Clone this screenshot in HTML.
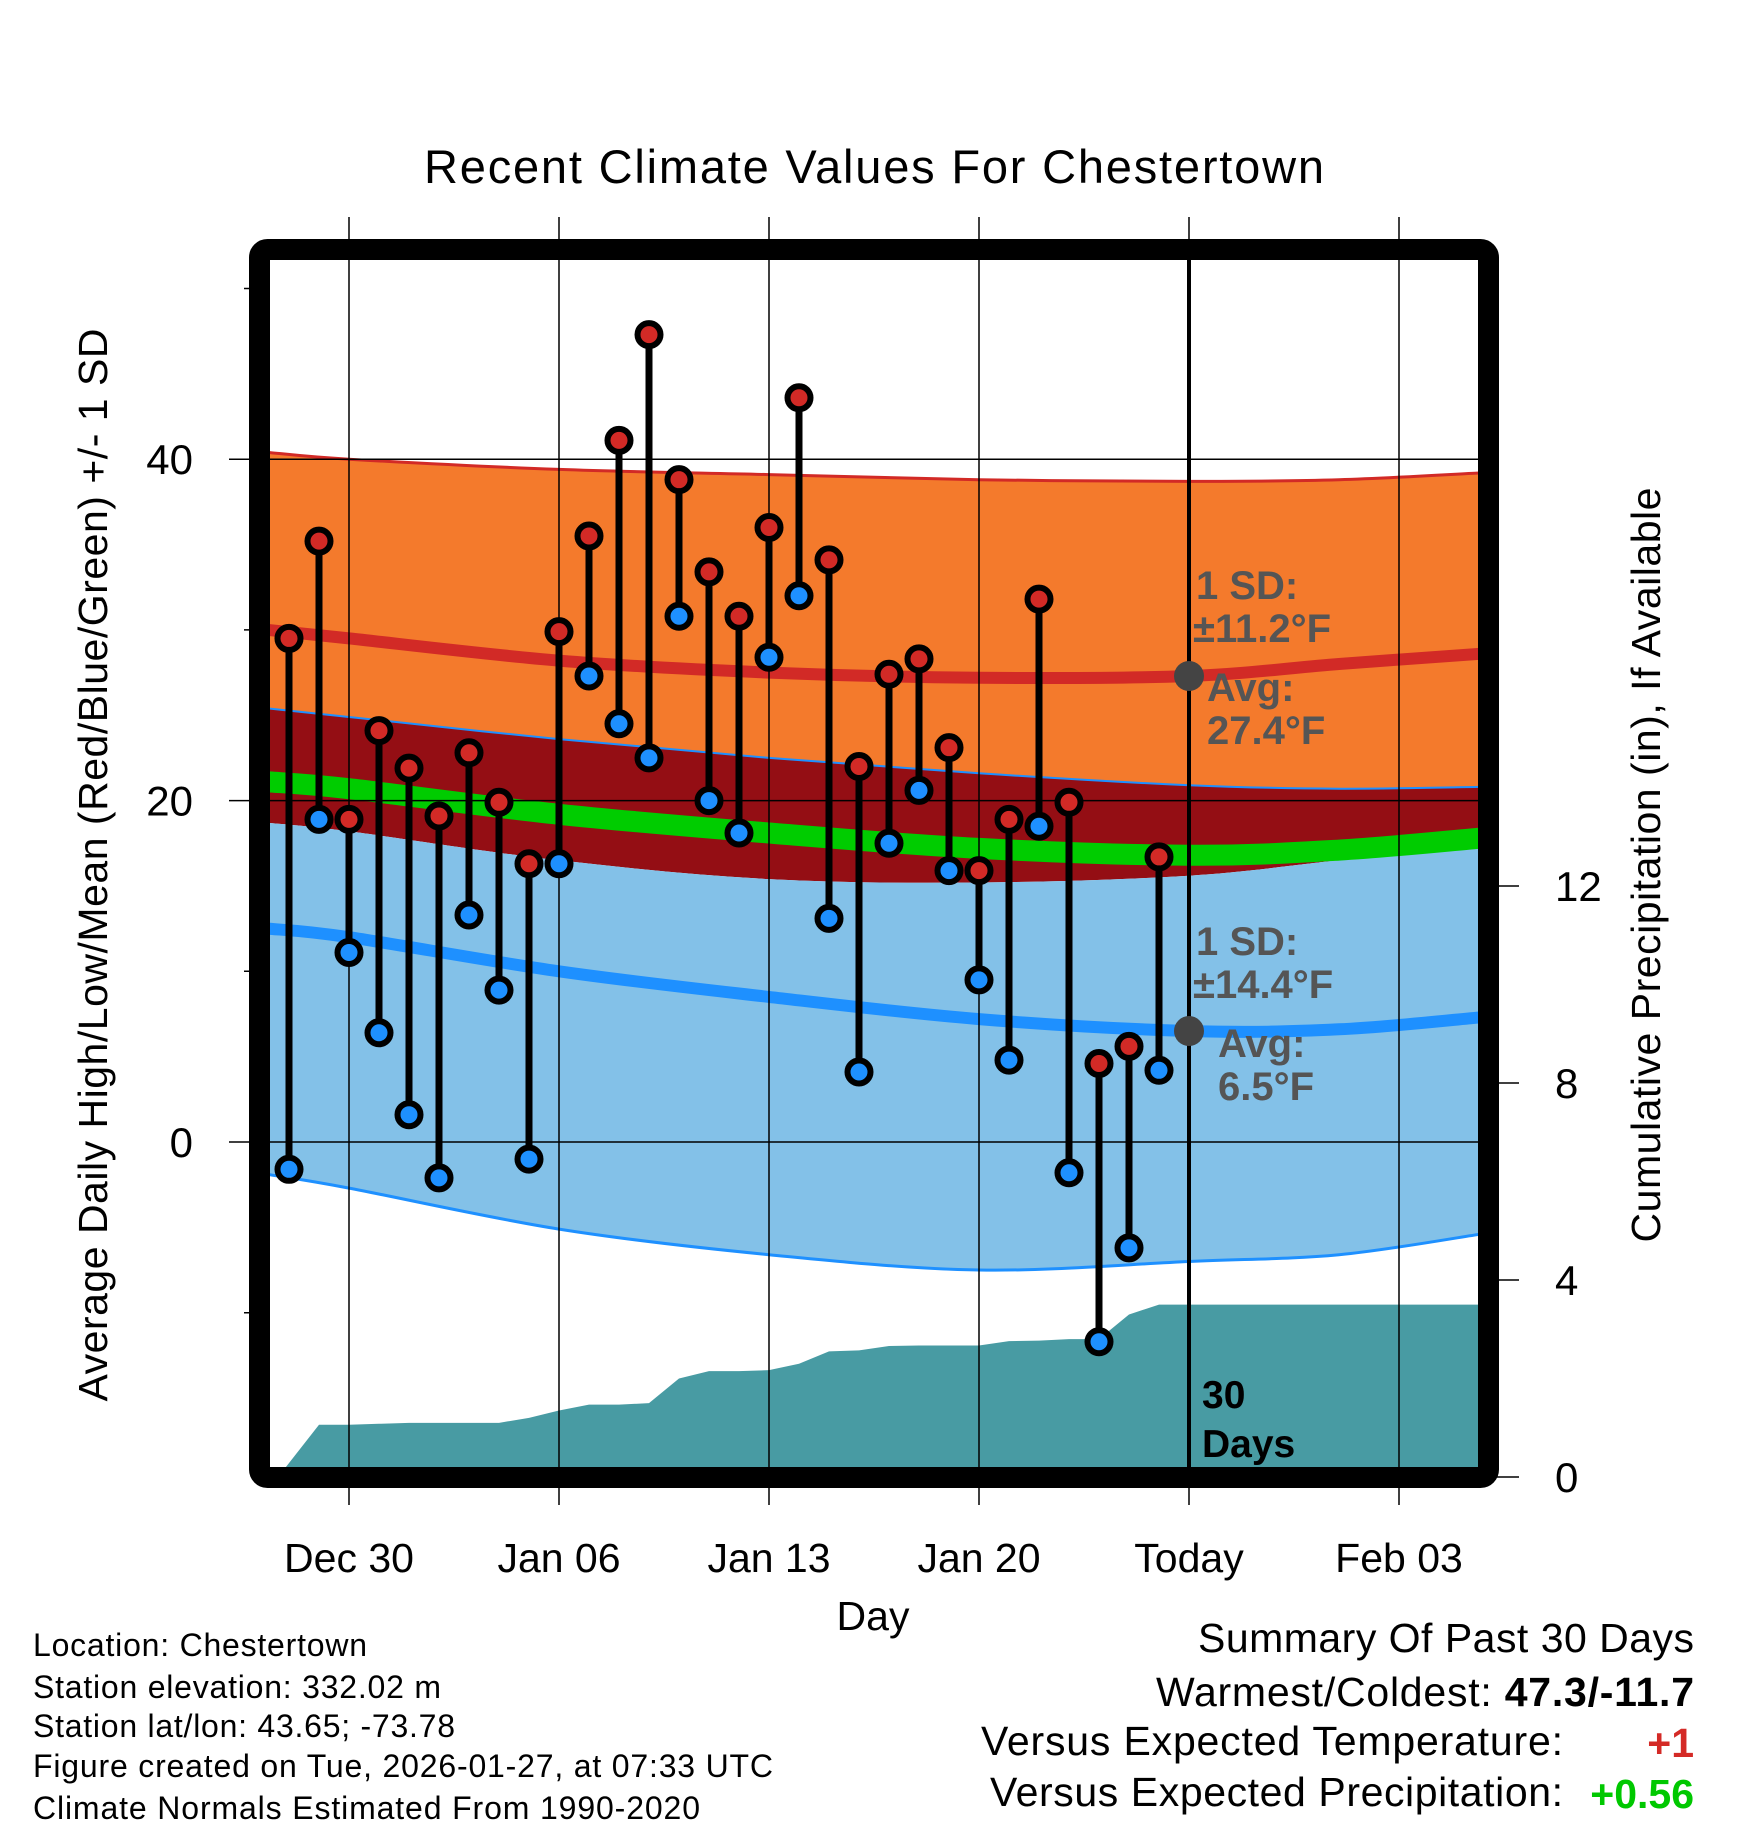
<!DOCTYPE html>
<html><head><meta charset="utf-8"><style>
html,body{margin:0;padding:0;background:#fff;}
svg{display:block;font-family:"Liberation Sans",sans-serif;}
</style></head><body>
<svg id="chart" width="1748" height="1828" viewBox="0 0 1748 1828" xmlns="http://www.w3.org/2000/svg">
<defs><clipPath id="plotclip"><rect x="270" y="260" width="1209" height="1207"/></clipPath></defs>
<g id="bands" clip-path="url(#plotclip)"></g>
<g id="grid"></g>
<g id="marks"></g>
<rect x="259.5" y="249.5" width="1229" height="1228" rx="8" fill="none" stroke="#000" stroke-width="21"/>
<text x="874" y="183" font-size="47" text-anchor="middle" textLength="900">Recent Climate Values For Chestertown</text>
<text x="873" y="1630" font-size="41" text-anchor="middle">Day</text>
<text transform="translate(107,865) rotate(-90)" font-size="41" text-anchor="middle" textLength="1073">Average Daily High/Low/Mean (Red/Blue/Green) +/- 1 SD</text>
<text transform="translate(1660,865) rotate(-90)" font-size="41" text-anchor="middle" textLength="755">Cumulative Precipitation (in), If Available</text>
<g font-weight="bold" fill="#555" font-size="40">
<text x="1196" y="599">1 SD:</text>
<text x="1193" y="642">±11.2°F</text>
<text x="1207" y="701">Avg:</text>
<text x="1207" y="744">27.4°F</text>
<text x="1196" y="955">1 SD:</text>
<text x="1193" y="998">±14.4°F</text>
<text x="1218" y="1057">Avg:</text>
<text x="1218" y="1100">6.5°F</text>
</g>
<text x="1202" y="1408" font-size="39" font-weight="bold">30</text>
<text x="1202" y="1457" font-size="39" font-weight="bold">Days</text>
<g font-size="32">
<text x="33" y="1656" textLength="334">Location: Chestertown</text>
<text x="33" y="1698" textLength="408">Station elevation: 332.02 m</text>
<text x="33" y="1737" textLength="422">Station lat/lon: 43.65; -73.78</text>
<text x="33" y="1777" textLength="740">Figure created on Tue, 2026-01-27, at 07:33 UTC</text>
<text x="33" y="1819" textLength="667">Climate Normals Estimated From 1990-2020</text>
</g>
<g font-size="41">
<text x="1694" y="1652" text-anchor="end" textLength="496">Summary Of Past 30 Days</text>
<text x="1694" y="1706" text-anchor="end" textLength="538">Warmest/Coldest: <tspan font-weight="bold">47.3/-11.7</tspan></text>
<text x="1563" y="1755" text-anchor="end" textLength="582">Versus Expected Temperature:</text>
<text x="1694" y="1757" text-anchor="end" font-weight="bold" fill="#D42A26">+1</text>
<text x="1563" y="1806" text-anchor="end" textLength="573">Versus Expected Precipitation:</text>
<text x="1694" y="1808" text-anchor="end" font-weight="bold" fill="#00C800">+0.56</text>
</g>
</svg>
<script>
// days relative to Dec 30
const normDays = [-2.7, 0, 7, 14, 21, 28, 33, 37.7];
const hiUpper = [40.4, 40.0, 39.4, 39.1, 38.8, 38.7, 38.8, 39.2];
const hiMean  = [30.0, 29.5, 28.2, 27.5, 27.2, 27.3, 28.0, 28.6];
const hiLower = [25.4, 24.9, 23.6, 22.5, 21.6, 20.9, 20.7, 20.8];
const meanT   = [21.1, 20.7, 19.2, 18.1, 17.2, 16.8, 17.1, 17.8];
const loUpper = [18.7, 18.2, 16.5, 15.4, 15.2, 15.6, 16.5, 17.3];
const loMean  = [12.5, 12.0, 10.0, 8.5, 7.2, 6.5, 6.6, 7.3];
const loLower = [-1.9, -2.7, -5.1, -6.6, -7.5, -7.0, -6.6, -5.4];
const obsDays = [-2,-1,0,1,2,3,4,5,6,7,8,9,10,11,12,13,14,15,16,17,18,19,20,21,22,23,24,25,26,27];
const highs = [29.5,35.2,18.9,24.1,21.9,19.1,22.8,19.9,16.3,29.9,35.5,41.1,47.3,38.8,33.4,30.8,36.0,43.6,34.1,22.0,27.4,28.3,23.1,15.9,18.9,31.8,19.9,4.6,5.6,16.7];
const lows  = [-1.6,18.9,11.1,6.4,1.6,-2.1,13.3,8.9,-1.0,16.3,27.3,24.5,22.5,30.8,20.0,18.1,28.4,32.0,13.1,4.1,17.5,20.6,15.9,9.5,4.8,18.5,-1.8,-11.7,-6.2,4.2];
const precipDays = [-3,-2.3,-1,0,1,2,3,4,5,6,7,8,9,10,11,12,13,14,15,16,17,18,19,20,21,22,23,24,25,26,27,38];
const precipCum = [0,0.05,1.06,1.06,1.08,1.1,1.1,1.1,1.1,1.2,1.35,1.47,1.47,1.5,2.0,2.15,2.15,2.17,2.3,2.55,2.57,2.66,2.67,2.67,2.67,2.76,2.77,2.8,2.8,3.3,3.5,3.5];
const xTickDays = [0,7,14,21,28,35];
const xTickLabels = ["Dec 30","Jan 06","Jan 13","Jan 20","Today","Feb 03"];
const yTicks = [0,20,40];
const yMinor = [-10,10,30,50];
const pTicks = [0,4,8,12];
const todayDay = 28;

const NS="http://www.w3.org/2000/svg";
const X = d => 349 + d*30;
const Y = t => 1142 - t*17.07;
const P = p => 1477 - p*49.25;
function mk(tag, attrs, parent){const e=document.createElementNS(NS,tag);for(const k in attrs)e.setAttribute(k,attrs[k]);parent.appendChild(e);return e;}
const bands=document.getElementById('bands'), grid=document.getElementById('grid'), marks=document.getElementById('marks');
function xy(arr){return normDays.map((d,i)=>[X(d),Y(arr[i])]);}
function smooth(p, start){
  let s = (start?'M':'L')+p[0][0].toFixed(1)+','+p[0][1].toFixed(1);
  for(let i=0;i<p.length-1;i++){
    const p0=p[Math.max(0,i-1)],p1=p[i],p2=p[i+1],p3=p[Math.min(p.length-1,i+2)];
    const c1=[p1[0]+(p2[0]-p0[0])/6,p1[1]+(p2[1]-p0[1])/6];
    const c2=[p2[0]-(p3[0]-p1[0])/6,p2[1]-(p3[1]-p1[1])/6];
    s+=' C'+c1[0].toFixed(1)+','+c1[1].toFixed(1)+' '+c2[0].toFixed(1)+','+c2[1].toFixed(1)+' '+p2[0].toFixed(1)+','+p2[1].toFixed(1);
  }
  return s;
}
function area(a,b,fill,name){
  const d=smooth(xy(a),true)+' '+smooth(xy(b).reverse(),false)+' Z';
  const e=mk('path',{d:d,fill:fill},bands);
  
  
}
function line(a,color,w,name){
  const e=mk('path',{d:smooth(xy(a),true),fill:'none',stroke:color,'stroke-width':w},bands);
  
  
}
area(hiUpper,hiLower,'#F47A2C','high-sd-band');
area(hiLower,loUpper,'#940E14','overlap-band');
area(loUpper,loLower,'#83C1E8','low-sd-band');
line(hiUpper,'#D22A26',3,'high-upper-line');
line(hiLower,'#1E90FF',2,'high-lower-line');
line(loLower,'#1E90FF',3,'low-lower-line');
line(meanT,'#00CC00',21,'mean-line');
line(hiMean,'#D22A26',12,'high-mean-line');
line(loMean,'#1E90FF',12,'low-mean-line');
// precip
{
  const p=precipDays.map((d,i)=>X(d)+','+P(precipCum[i]));
  p.push(X(38)+','+1490); p.push(X(-3)+','+1490);
  const e=mk('polygon',{points:p.join(' '),fill:'#489BA3'},bands);
  
  
}
// grid
xTickDays.forEach((d,i)=>{
  const l=mk('line',{x1:X(d),x2:X(d),y1:217,y2:1505,stroke:'#000','stroke-width':1.5},grid);
  
  
  const t=mk('text',{x:X(d),y:1572,'font-size':41,'text-anchor':'middle'},grid);
  t.textContent=xTickLabels[i];
  
  
});
yTicks.forEach(v=>{
  const l=mk('line',{x1:229,x2:1479,y1:Y(v),y2:Y(v),stroke:'#000','stroke-width':1.5},grid);
  
  
  const t=mk('text',{x:193,y:Y(v)+15,'font-size':42,'text-anchor':'end'},grid);
  t.textContent=v;
  
  
});
yMinor.forEach(v=>{
  const l=mk('line',{x1:244,x2:262,y1:Y(v),y2:Y(v),stroke:'#000','stroke-width':1.5},grid);
  
  
});
pTicks.forEach(v=>{
  const l=mk('line',{x1:1490,x2:1519,y1:P(v),y2:P(v),stroke:'#000','stroke-width':1.5},grid);
  
  
  const t=mk('text',{x:1555,y:P(v)+15,'font-size':42},grid);
  t.textContent=v;
  
  
});
// today line
{
  const l=mk('line',{x1:X(todayDay),x2:X(todayDay),y1:255,y2:1470,stroke:'#000','stroke-width':4},marks);
  
  
  const a=mk('circle',{cx:X(todayDay),cy:Y(hiMean[5]),r:15,fill:'#444'},marks);
  
  
  const b=mk('circle',{cx:X(todayDay),cy:Y(loMean[5]),r:15,fill:'#444'},marks);
  
  
}
obsDays.forEach((d,i)=>{
  const l=mk('line',{x1:X(d),x2:X(d),y1:Y(highs[i]),y2:Y(lows[i]),stroke:'#000','stroke-width':7},marks);
  
  
});
obsDays.forEach((d,i)=>{
  const h=mk('circle',{cx:X(d),cy:Y(highs[i]),r:11.5,fill:'#D22A26',stroke:'#000','stroke-width':6},marks);
  
  
  const lo=mk('circle',{cx:X(d),cy:Y(lows[i]),r:11.5,fill:'#1E90FF',stroke:'#000','stroke-width':6},marks);
  
  
});
</script>
</body></html>
